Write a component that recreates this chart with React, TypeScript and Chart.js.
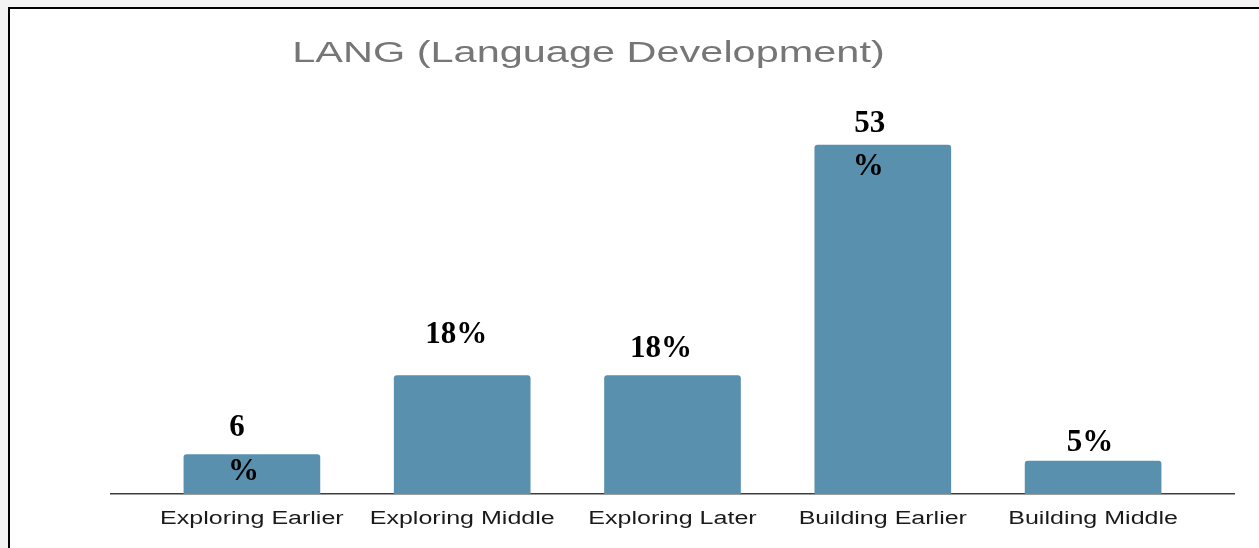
import React, { useEffect, useRef } from "react";
import { Chart, registerables } from "chart.js";

Chart.register(...registerables);

const TITLE = "LANG (Language Development)";
const categories = [
  "Exploring Earlier",
  "Exploring Middle",
  "Exploring Later",
  "Building Earlier",
  "Building Middle",
];
const values = [6, 18, 18, 53, 5];
const valueLabels = [["6", "%"], ["18%"], ["18%"], ["53", "%"], ["5%"]];

// small hand-placed nudges of the value labels relative to each bar's top centre
const LABEL_NUDGE: number[][][] = [
  [[-15, -19], [-8.5, 25]],
  [[-6, -33]],
  [[-11.5, -19]],
  [[-13, -13], [-14.5, 30]],
  [[-3, -10]],
];

const textPlugin = {
  id: "stretchedText",
  afterDraw(chart: any) {
    const ctx = chart.ctx as CanvasRenderingContext2D;
    const xs = chart.scales.x;
    const ys = chart.scales.y;
    ctx.save();
    ctx.textAlign = "center";
    ctx.textBaseline = "alphabetic";

    // title (horizontally stretched, as in the reference)
    ctx.fillStyle = "#767676";
    ctx.font = "29px 'Liberation Sans', Arial, sans-serif";
    ctx.save();
    ctx.translate(588.5, 62);
    ctx.scale(1.43, 1);
    ctx.fillText(TITLE, 0, 0);
    ctx.restore();

    // category labels
    ctx.fillStyle = "#1a1a1a";
    ctx.font = "18px 'Liberation Sans', Arial, sans-serif";
    categories.forEach((c, i) => {
      const x = xs.getPixelForValue(i);
      ctx.save();
      ctx.translate(x, ys.bottom + 30);
      ctx.scale(1.39, 1);
      ctx.fillText(c, 0, 0);
      ctx.restore();
    });

    // value labels
    const meta = chart.getDatasetMeta(0);
    ctx.fillStyle = "#000000";
    ctx.font = "bold 31px 'Liberation Serif', 'Times New Roman', serif";
    meta.data.forEach((bar: any, i: number) => {
      const lines = valueLabels[i];
      const nudge = LABEL_NUDGE[i];
      lines.forEach((ln, j) => {
        ctx.fillText(ln, bar.x + nudge[j][0], bar.y + nudge[j][1]);
      });
    });
    ctx.restore();
  },
};

export default function App() {
  const canvasRef = useRef<HTMLCanvasElement | null>(null);

  useEffect(() => {
    const canvas = canvasRef.current;
    if (!canvas) return;
    const chart = new Chart(canvas, {
      type: "bar",
      data: {
        datasets: [
          {
            label: TITLE,
            data: values.map((v, i) => ({ x: i, y: v })) as any,
            backgroundColor: "#5890ae",
            borderRadius: { topLeft: 3, topRight: 3, bottomLeft: 0, bottomRight: 0 },
            borderSkipped: "bottom",
            barThickness: 136,
          },
        ],
      },
      options: {
        responsive: false,
        animation: false,
        devicePixelRatio: 1,
        layout: { padding: { left: 111, right: 25, top: 99, bottom: 54 } },
        plugins: {
          legend: { display: false },
          title: { display: false },
          tooltip: { enabled: false },
        },
        scales: {
          x: {
            type: "linear",
            offset: false,
            min: -0.67,
            max: 4.67,
            grid: { display: false, drawTicks: false, offset: false },
            border: { display: true, color: "#3c3c3c", width: 1.5 },
            ticks: { display: false },
          },
          y: {
            display: false,
            min: 0,
            max: 60,
          },
        },
      },
      plugins: [textPlugin],
    });
    return () => chart.destroy();
  }, []);

  return (
    <div
      style={{
        position: "absolute",
        left: 0,
        top: 0,
        width: 1259,
        height: 548,
        overflow: "hidden",
        background: "#f3f3f3",
      }}
    >
      <div
        style={{
          position: "absolute",
          left: 8,
          top: 7,
          width: 1300,
          height: 600,
          background: "#ffffff",
          borderTop: "2px solid #000",
          borderLeft: "2px solid #000",
          boxSizing: "border-box",
        }}
      />
      <canvas
        ref={canvasRef}
        width={1259}
        height={548}
        style={{ position: "absolute", left: 0, top: 0, width: 1259, height: 548 }}
      />
    </div>
  );
}
